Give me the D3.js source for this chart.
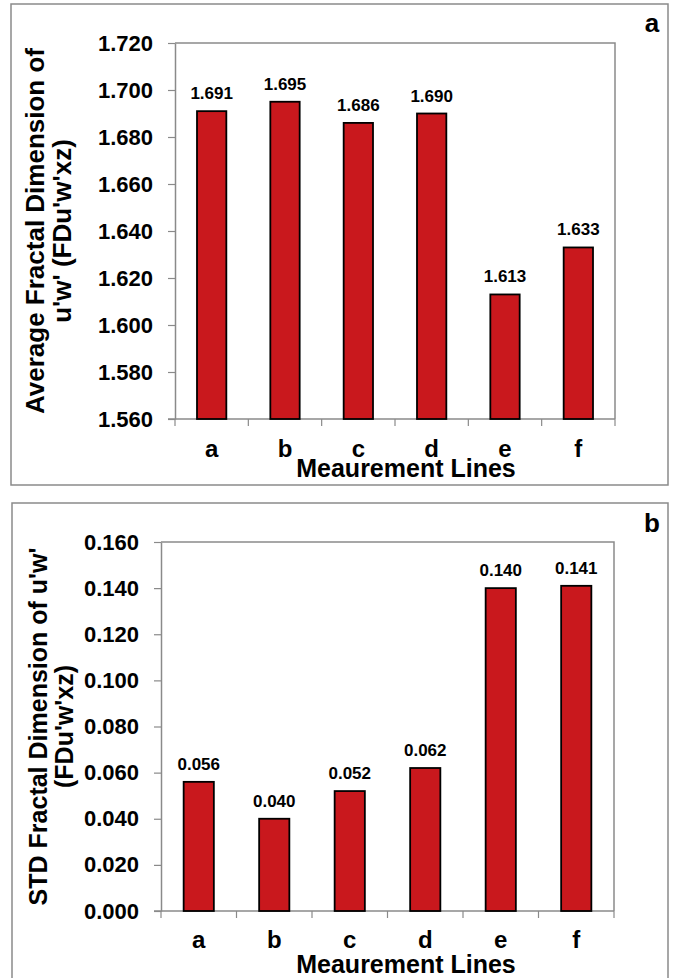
<!DOCTYPE html>
<html>
<head>
<meta charset="utf-8">
<script src="https://cdn.jsdelivr.net/npm/d3@7"></script>
<style>
  body { margin: 0; background: #fff; }
  svg { display: block; }
  text { font-family: Arial, "Liberation Sans", Helvetica, sans-serif; font-weight: bold; fill: #000; }
</style>
</head>
<body>
<svg id="chart" width="674" height="978"></svg>
<script>
// ---- data ----
const categories = ["a", "b", "c", "d", "e", "f"];
const avgFD = [1.691, 1.695, 1.686, 1.690, 1.613, 1.633];
const stdFD = [0.056, 0.040, 0.052, 0.062, 0.140, 0.141];
const avgTicks = [1.560, 1.580, 1.600, 1.620, 1.640, 1.660, 1.680, 1.700, 1.720];
const stdTicks = [0.000, 0.020, 0.040, 0.060, 0.080, 0.100, 0.120, 0.140, 0.160];
const xTitle = "Meaurement Lines";
const avgTitle = ["Average  Fractal Dimension of", "u'w' (FDu'w'xz)"];
const stdTitle = ["STD Fractal Dimension of u'w'", "(FDu'w'xz)"];

const svg = d3.select("#chart");
const barFill = "#C9181D";
const frameColor = "#8a8a8a";

function panel(cfg) {
  const g = svg.append("g");
  // outer box
  g.append("rect")
    .attr("x", cfg.box[0]).attr("y", cfg.box[1])
    .attr("width", cfg.box[2]).attr("height", cfg.box[3])
    .attr("fill", "none").attr("stroke", frameColor).attr("stroke-width", 1.5);

  const x = d3.scaleBand().domain(categories).range([cfg.left, cfg.right]).paddingInner(0.6).paddingOuter(0.3);
  const xb = d3.scaleBand().domain(categories).range([cfg.left, cfg.right]);
  const y = d3.scaleLinear().domain(cfg.domain).range([cfg.bottom, cfg.top]);

  // plot frame top / right
  g.append("path")
    .attr("d", `M${cfg.left},${cfg.top}H${cfg.right}V${cfg.bottom}`)
    .attr("fill", "none").attr("stroke", frameColor).attr("stroke-width", 1.5);

  // y axis
  const ya = g.append("g").attr("transform", `translate(${cfg.left},0)`)
    .call(d3.axisLeft(y).tickValues(cfg.ticks).tickFormat(d3.format(".3f")).tickSize(7).tickPadding(15).tickSizeOuter(0));
  ya.select(".domain").attr("stroke", frameColor).attr("stroke-width", 1.5);
  ya.selectAll(".tick line").attr("stroke", frameColor).attr("stroke-width", 1.2);
  ya.selectAll(".tick text").attr("font-size", 22).attr("font-family", "Arial, 'Liberation Sans', sans-serif").attr("font-weight", "bold").attr("fill", "#000");

  // x axis (ticks between categories)
  const xa = g.append("g").attr("transform", `translate(0,${cfg.bottom})`);
  xa.append("line").attr("x1", cfg.left - 7).attr("x2", cfg.right).attr("y1", 0).attr("y2", 0)
    .attr("stroke", frameColor).attr("stroke-width", 1.5);
  const edges = categories.map(c => xb(c)).concat([xb(categories[categories.length - 1]) + xb.bandwidth()]);
  xa.selectAll("line.tk").data(edges).join("line").attr("class", "tk")
    .attr("x1", d => d).attr("x2", d => d).attr("y1", 0).attr("y2", 7)
    .attr("stroke", frameColor).attr("stroke-width", 1.2);
  xa.selectAll("text.cat").data(categories).join("text").attr("class", "cat")
    .attr("x", d => xb(d) + xb.bandwidth() / 2).attr("y", cfg.catDy)
    .attr("text-anchor", "middle").attr("font-size", 24).text(d => d);

  // bars
  g.selectAll("rect.bar").data(cfg.values).join("rect").attr("class", "bar")
    .attr("x", (d, i) => x(categories[i]))
    .attr("y", d => y(d))
    .attr("width", x.bandwidth())
    .attr("height", d => cfg.bottom - y(d))
    .attr("fill", barFill).attr("stroke", "#000").attr("stroke-width", 1.8);

  // value labels
  g.selectAll("text.val").data(cfg.values).join("text").attr("class", "val")
    .attr("x", (d, i) => x(categories[i]) + x.bandwidth() / 2)
    .attr("y", d => y(d) - 12)
    .attr("text-anchor", "middle").attr("font-size", 17)
    .text(d => d3.format(".3f")(d));

  // x title
  g.append("text").attr("x", 406).attr("y", cfg.xTitleY).attr("text-anchor", "middle")
    .attr("font-size", 25).text(xTitle);

  // y title
  const cy = (cfg.top + cfg.bottom) / 2;
  cfg.yTitle.forEach((t, i) => {
    g.append("text").attr("transform", `translate(${cfg.yTitleX[i]},${cy}) rotate(-90)`)
      .attr("text-anchor", "middle").attr("font-size", cfg.yTitleSize).text(t);
  });

  // panel letter
  g.append("text").attr("x", 652).attr("y", cfg.letterY).attr("text-anchor", "middle")
    .attr("font-family", "'Liberation Serif', 'Times New Roman', serif").attr("font-size", 26)
    .text(cfg.letter);
}

panel({
  box: [11, 4, 657, 481],
  left: 175, right: 615, top: 43, bottom: 419,
  domain: [1.56, 1.72], ticks: avgTicks, values: avgFD,
  catDy: 38, xTitleY: 477, yTitle: avgTitle, yTitleX: [44, 71], yTitleSize: 26,
  letter: "a", letterY: 32
});

panel({
  box: [12, 503, 656, 490],
  left: 161, right: 614, top: 542, bottom: 911,
  domain: [0, 0.16], ticks: stdTicks, values: stdFD,
  catDy: 37, xTitleY: 973, yTitle: stdTitle, yTitleX: [47, 73], yTitleSize: 25,
  letter: "b", letterY: 532
});
</script>
</body>
</html>
